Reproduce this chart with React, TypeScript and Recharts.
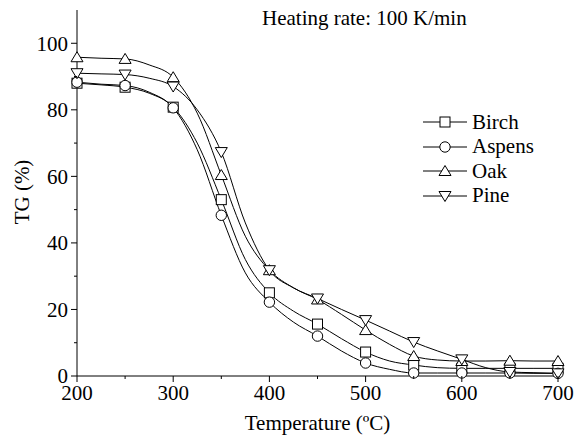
import React from 'react';
import { LineChart, Line, XAxis, YAxis, Legend } from 'recharts';

// temperature grid (ºC); markers are drawn only every 50 ºC
const temps = [200, 225, 250, 275, 300, 325, 350, 375, 400, 425, 450, 475, 500, 525, 550, 575, 600, 625, 650, 675, 700];
const birch = [88, 87.5, 86.8, 85, 80.8, 70, 53, 35, 25, 19.5, 15.6, 11.2, 7.2, 4.5, 3.3, 2.5, 2.3, 2.3, 2.3, 2.3, 2.3];
const aspens = [88.3, 87.7, 87.3, 85.3, 80.6, 68, 48.3, 31, 22.2, 16.2, 12, 7.5, 3.9, 2, 0.9, 0.9, 0.9, 0.9, 0.9, 0.8, 0.8];
const oak = [95.8, 95.5, 95.3, 93.5, 89.8, 79, 60.4, 42, 31.8, 26.5, 23, 18.5, 13.8, 9.5, 6, 4.8, 4.5, 4.5, 4.6, 4.5, 4.5];
const pine = [91, 90.8, 90.6, 89.5, 87, 80, 67.3, 46, 31.8, 26.5, 23.3, 20, 16.8, 13.5, 10.2, 7.5, 5, 2.5, 1.2, 1, 0.8];

const xTicks = [200, 250, 300, 350, 400, 450, 500, 550, 600, 650, 700];
const xLabels = [200, 300, 400, 500, 600, 700];
const yTicks = [0, 10, 20, 30, 40, 50, 60, 70, 80, 90, 100];
const yLabels = [0, 20, 40, 60, 80, 100];

const data = temps.map((t, i) => ({ t, birch: birch[i], aspens: aspens[i], oak: oak[i], pine: pine[i] }));

const series = [
	{ key: 'birch', name: 'Birch', shape: 'square' },
	{ key: 'aspens', name: 'Aspens', shape: 'circle' },
	{ key: 'oak', name: 'Oak', shape: 'up' },
	{ key: 'pine', name: 'Pine', shape: 'down' },
];

const FONT = '"Liberation Serif", "Times New Roman", serif';
const TICK = 6;
const MINOR = 3;
const GAP = 3;

function Marker({ shape, cx, cy }: { shape: string; cx: number; cy: number }) {
	const p = { fill: '#fff', stroke: '#000', strokeWidth: 1 };
	if (shape === 'square') return <rect x={cx - 5} y={cy - 5} width={10} height={10} {...p} />;
	if (shape === 'circle') return <circle cx={cx} cy={cy} r={5.2} {...p} />;
	if (shape === 'up') return <polygon points={`${cx},${cy - 5.5} ${cx - 6},${cy + 4.5} ${cx + 6},${cy + 4.5}`} {...p} />;
	return <polygon points={`${cx},${cy + 5.5} ${cx - 6},${cy - 4.5} ${cx + 6},${cy - 4.5}`} {...p} />;
}

const makeDot = (shape: string) => (props: any) => {
	const { cx, cy, payload, index } = props;
	if (payload.t % 50 !== 0) return <g key={index} />;
	return (
		<g key={index}>
			<Marker shape={shape} cx={cx} cy={cy} />
		</g>
	);
};

function XTick({ x, y, payload }: any) {
	const axisY = y - TICK - GAP;
	const major = xLabels.includes(payload.value);
	return (
		<g>
			<line x1={x} x2={x} y1={axisY} y2={axisY + (major ? TICK : MINOR)} stroke="#000" />
			{major && (
				<text x={x} y={y} dy="0.71em" textAnchor="middle" fontSize={21} fontFamily={FONT} fill="#000">
					{payload.value}
				</text>
			)}
		</g>
	);
}

function YTick({ x, y, payload }: any) {
	const axisX = x + TICK + GAP;
	const major = yLabels.includes(payload.value);
	return (
		<g>
			<line x1={axisX - (major ? TICK : MINOR)} x2={axisX} y1={y} y2={y} stroke="#000" />
			{major && (
				<text x={x} y={y} dy="0.355em" textAnchor="end" fontSize={21} fontFamily={FONT} fill="#000">
					{payload.value}
				</text>
			)}
		</g>
	);
}

function LegendContent() {
	return (
		<div style={{ fontFamily: FONT, fontSize: 21, color: '#000' }}>
			{series.map((s) => (
				<div key={s.key} style={{ display: 'flex', alignItems: 'center', height: 24.5 }}>
					<svg width={49} height={24} style={{ display: 'block' }}>
						<line x1={0} x2={44} y1={12} y2={12} stroke="#000" />
						<Marker shape={s.shape} cx={22} cy={12} />
					</svg>
					<span style={{ lineHeight: 1 }}>{s.name}</span>
				</div>
			))}
		</div>
	);
}

export default function App() {
	return (
		<div style={{ position: 'absolute', left: 0, top: 0, width: 576, height: 439, background: '#fff', fontFamily: FONT }}>
			<LineChart width={576} height={439} data={data} margin={{ top: 10, right: 18, left: 0, bottom: 0 }}>
				<XAxis
					dataKey="t"
					type="number"
					domain={[200, 700]}
					ticks={xTicks}
					interval={0}
					height={63}
					tickSize={TICK}
					tickMargin={GAP}
					tickLine={false}
					axisLine={{ stroke: '#000' }}
					tick={<XTick />}
					label={{
						content: ({ viewBox }: any) => (
							<text x={viewBox.x + viewBox.width / 2} y={viewBox.y + 54} textAnchor="middle" fontSize={21} fontFamily={FONT} fill="#000">
								Temperature (ºC)
							</text>
						),
					}}
				/>
				<YAxis
					type="number"
					domain={[0, 110]}
					ticks={yTicks}
					interval={0}
					width={77}
					tickSize={TICK}
					tickMargin={GAP}
					tickLine={false}
					axisLine={{ stroke: '#000' }}
					tick={<YTick />}
					label={{
						content: () => {
							const cx = 22;
							const cy = 192;
							return (
								<text x={cx} y={cy} transform={`rotate(-90, ${cx}, ${cy})`} textAnchor="middle" dominantBaseline="central" fontSize={21} fontFamily={FONT} fill="#000">
									TG (%)
								</text>
							);
						},
					}}
				/>
				<Legend
					content={<LegendContent />}
					layout="vertical"
					align="center"
					verticalAlign="middle"
					wrapperStyle={{ left: 423, top: 110, width: 'auto' }}
				/>
				{series.map((s) => (
					<Line
						key={s.key}
						dataKey={s.key}
						name={s.name}
						type="monotone"
						stroke="#000"
						strokeWidth={1}
						dot={makeDot(s.shape)}
						activeDot={false}
						isAnimationActive={false}
					/>
				))}
			</LineChart>
			<div style={{ position: 'absolute', left: 262, top: 8, fontSize: 21, lineHeight: 1, color: '#000', whiteSpace: 'nowrap' }}>
				Heating rate: 100 K/min
			</div>
		</div>
	);
}
